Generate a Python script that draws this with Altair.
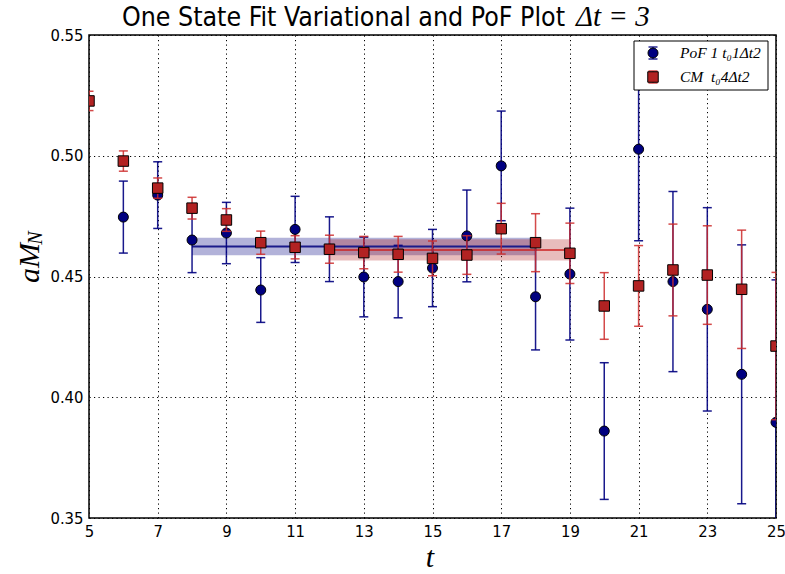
import altair as alt
import pandas as pd

# Effective-mass data: PoF (t0=1, dt=2) and CM (t0=4, dt=2)
t_pof = list(range(6, 26))
m_pof = [0.4746, 0.4837, 0.4651, 0.4680, 0.4444, 0.4695, 0.4613, 0.4498, 0.4479, 0.4535,
         0.4668, 0.4958, 0.4416, 0.4510, 0.3860, 0.5027, 0.4479, 0.4364, 0.4095, 0.3896]
e_pof = [0.0149, 0.0138, 0.0135, 0.0127, 0.0134, 0.0137, 0.0134, 0.0165, 0.0150, 0.0160,
         0.0190, 0.0227, 0.0220, 0.0273, 0.0283, 0.0379, 0.0373, 0.0421, 0.0536, 0.0590]

t_cm = list(range(5, 26))
m_cm = [0.5227, 0.4978, 0.4866, 0.4783, 0.4734, 0.4640, 0.4621, 0.4613, 0.4599, 0.4592,
        0.4575, 0.4589, 0.4698, 0.4640, 0.4596, 0.4378, 0.4461, 0.4527, 0.4506, 0.4447, 0.4212]
e_cm = [0.0040, 0.0042, 0.0042, 0.0045, 0.0047, 0.0048, 0.0048, 0.0058, 0.0067, 0.0074,
        0.0072, 0.0080, 0.0105, 0.0120, 0.0125, 0.0138, 0.0167, 0.0190, 0.0204, 0.0245, 0.0305]

# One-state fit results (fit window and value +/- error)
fit_names = ["PoF", "CM"]
fit_t0 = [8, 12]
fit_t1 = [18, 19]
fit_val = [0.4624, 0.4610]
fit_err = [0.0036, 0.0044]

legend_labels = ["PoF\u00a01\u00a0t\u20801\u0394t2", "CM\u00a0\u00a0t\u20804\u0394t2"]
title_main = ["One State Fit Variational and PoF Plot"]
title_math = ["\u0394t\u00a0=\u00a03"]
y_title = ["aM"]
y_title_sub = ["N"]
x_title = ["t"]
x_ticks = list(range(5, 26, 2))
y_ticks = [0.35, 0.40, 0.45, 0.50, 0.55]

NAVY = "#000080"
RED = "#b22222"
RED_ERR = "#cc2a2a"
SANS = "DejaVu Sans Condensed, DejaVu Sans"
SERIF = "Liberation Serif"

pof = pd.DataFrame({"t": t_pof, "m": m_pof, "e": e_pof})
pof["lo"] = pof["m"] - pof["e"]
pof["hi"] = pof["m"] + pof["e"]
cm = pd.DataFrame({"t": t_cm, "m": m_cm, "e": e_cm})
cm["lo"] = cm["m"] - cm["e"]
cm["hi"] = cm["m"] + cm["e"]
fits = pd.DataFrame({"name": fit_names, "t0": fit_t0, "t1": fit_t1, "v": fit_val, "e": fit_err})
fits["lo"] = fits["v"] - fits["e"]
fits["hi"] = fits["v"] + fits["e"]

xs = alt.Scale(domain=[5, 25], nice=False, zero=False)
ys = alt.Scale(domain=[0.35, 0.55], nice=False, zero=False)

x_axis = alt.Axis(values=x_ticks, format="d", title=None, grid=True, gridColor="black",
                  gridDash=[1.2, 3.3], gridWidth=1, gridOpacity=1, tickSize=0, domain=False,
                  labelPadding=5, labelFont=SANS, labelFontSize=16.5, labelColor="black",
                  labelFlush=False)
y_axis = alt.Axis(values=y_ticks, format=".2f", title=None, grid=True, gridColor="black",
                  gridDash=[1.2, 3.3], gridWidth=1, gridOpacity=1, tickSize=0, domain=False,
                  labelPadding=6, labelFont=SANS, labelFontSize=16.5, labelColor="black",
                  labelFlush=False)


def X(field):
    return alt.X(field, type="quantitative", scale=xs, axis=x_axis)


def Y(field):
    return alt.Y(field, type="quantitative", scale=ys, axis=y_axis)


# Fit bands and central lines
band_colors = alt.Scale(domain=fit_names, range=[NAVY, RED])
bands = alt.Chart(fits).mark_rect(opacity=0.3, clip=True).encode(
    x=X("t0"), x2="t1", y=Y("lo"), y2="hi",
    color=alt.Color("name:N", scale=band_colors, legend=None))
fit_blue = alt.Chart(fits[fits["name"] == "PoF"]).mark_rule(color="#1a1a8a", strokeWidth=2, clip=True).encode(
    x=X("t0"), x2="t1", y=Y("v"))
fit_red = alt.Chart(fits[fits["name"] == "CM"]).mark_rule(color="#cc2020", strokeWidth=1.6, clip=True).encode(
    x=X("t0"), x2="t1", y=Y("v"))


def errorbars(df, color, opacity):
    line = alt.Chart(df).mark_rule(color=color, strokeWidth=1.5, opacity=opacity, clip=True).encode(
        x=X("t"), y=Y("lo"), y2="hi")
    cap_lo = alt.Chart(df).mark_tick(orient="horizontal", size=9, thickness=1.5, color=color,
                                     opacity=opacity, clip=True).encode(x=X("t"), y=Y("lo"))
    cap_hi = alt.Chart(df).mark_tick(orient="horizontal", size=9, thickness=1.5, color=color,
                                     opacity=opacity, clip=True).encode(x=X("t"), y=Y("hi"))
    return [line, cap_lo, cap_hi]


pts_pof = alt.Chart(pof).mark_point(shape="circle", filled=True, size=100, fill=NAVY, stroke="black",
                                    strokeWidth=1, opacity=1, clip=True).encode(x=X("t"), y=Y("m"))
pts_cm = alt.Chart(cm).mark_point(shape="square", filled=True, size=110, fill=RED, stroke="black",
                                  strokeWidth=1, opacity=1, clip=True).encode(x=X("t"), y=Y("m"))


def label(text, **kw):
    x = kw.pop("x")
    y = kw.pop("y")
    return alt.Chart(pd.DataFrame({"s": text})).mark_text(**kw).encode(
        x=alt.value(x), y=alt.value(y), text="s:N")


title1 = label(title_main, x=476, y=-9, align="right", baseline="alphabetic", font=SANS,
               fontSize=26.5, color="black")
title2 = label(title_math, x=487, y=-9, align="left", baseline="alphabetic", font=SERIF,
               fontSize=29, fontStyle="italic", color="black")
ylab = label(y_title, x=-59, y=228, align="center", baseline="middle", angle=270, font=SERIF,
             fontSize=30, fontStyle="italic", color="black")
ylab_sub = label(y_title_sub, x=-53, y=203, align="center", baseline="middle", angle=270, font=SERIF,
                 fontSize=20, fontStyle="italic", color="black")
xlab = label(x_title, x=341, y=532, align="center", baseline="alphabetic", font=SERIF,
             fontSize=30, fontStyle="italic", color="black")

# Legend box with error-bar symbols
leg_box = alt.Chart(pd.DataFrame({"s": [""]})).mark_rect(fill="white", stroke="black", strokeWidth=1).encode(
    x=alt.value(545), x2=alt.value(679), y=alt.value(6), y2=alt.value(55))
legend_layers = [leg_box]
for row_y, lab, col, ecol, shape, size in [(18, legend_labels[0], NAVY, NAVY, "circle", 100),
                                            (42, legend_labels[1], RED, RED_ERR, "square", 110)]:
    d = pd.DataFrame({"s": [lab]})
    legend_layers.append(alt.Chart(d).mark_rule(color=ecol, strokeWidth=1.5, opacity=0.85).encode(
        x=alt.value(564), y=alt.value(row_y - 6), y2=alt.value(row_y + 6)))
    for dy in (-6, 6):
        legend_layers.append(alt.Chart(d).mark_rule(color=ecol, strokeWidth=1.5, opacity=0.85).encode(
            x=alt.value(559.5), x2=alt.value(568.5), y=alt.value(row_y + dy)))
    legend_layers.append(alt.Chart(d).mark_point(shape=shape, filled=True, size=size, fill=col,
                                                 stroke="black", strokeWidth=1, opacity=1).encode(
        x=alt.value(564), y=alt.value(row_y)))
    legend_layers.append(alt.Chart(d).mark_text(align="left", baseline="middle", font=SERIF,
                                                fontSize=15.5, fontStyle="italic", color="black").encode(
        x=alt.value(591), y=alt.value(row_y), text="s:N"))

chart = alt.layer(
    bands, fit_blue, fit_red,
    *errorbars(pof, NAVY, 0.9),
    pts_pof,
    *errorbars(cm, RED_ERR, 0.85),
    pts_cm,
    title1, title2, ylab, ylab_sub, xlab,
    *legend_layers,
).properties(
    width=687, height=483,
    autosize=alt.AutoSizeParams(type="none"),
    padding={"left": 89, "top": 35, "right": 9, "bottom": 56},
    background="white",
).configure_view(stroke="black", strokeWidth=1.5)

chart.save("out.html", embed_options={"renderer": "svg", "actions": False})
